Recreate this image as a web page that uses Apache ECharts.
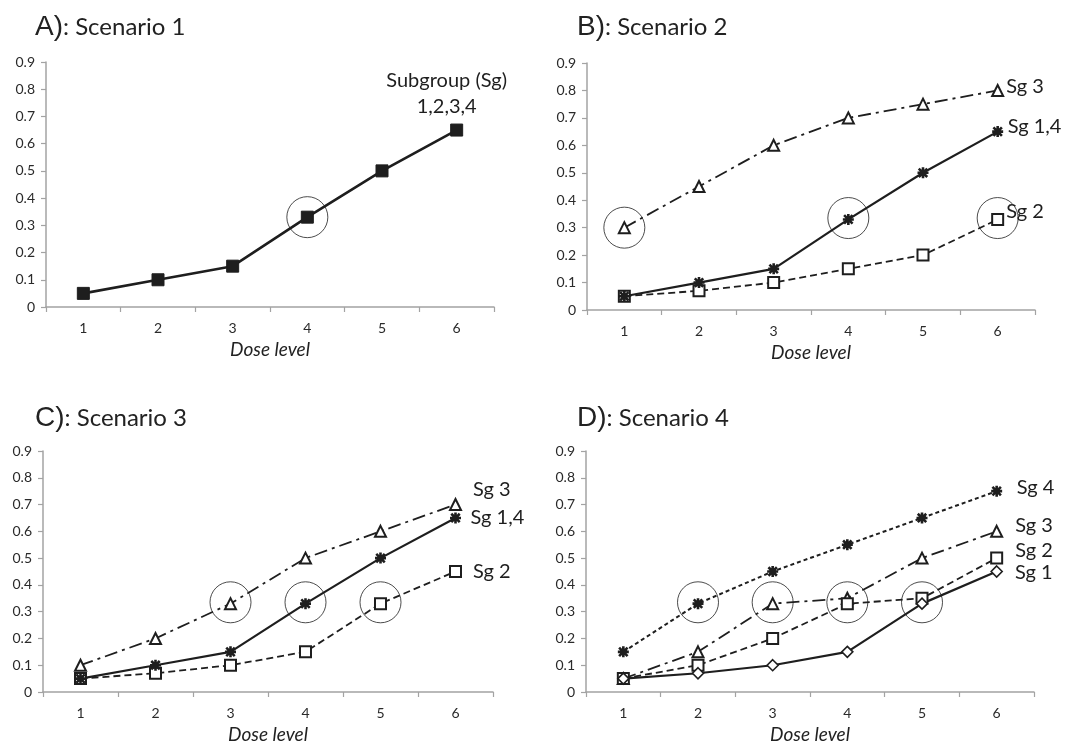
<!DOCTYPE html>
<html><head><meta charset="utf-8">
<script src="https://cdn.jsdelivr.net/npm/echarts@6/dist/echarts.min.js"></script>
<style>html,body{margin:0;padding:0;background:#fff}#c{width:1067px;height:745px}</style>
</head><body><div id="c"></div>
<script>
const doses = ['1','2','3','4','5','6'];
const yTicks = [0,0.1,0.2,0.3,0.4,0.5,0.6,0.7,0.8,0.9];
// Panel A
const aAll = [0.05,0.10,0.15,0.33,0.50,0.65];
const aCircles = [[3,0.33]];
// Panel B
const bSg14 = [0.05,0.10,0.15,0.33,0.50,0.65];
const bSg2  = [0.05,0.07,0.10,0.15,0.20,0.33];
const bSg3  = [0.30,0.45,0.60,0.70,0.75,0.80];
const bCircles = [[0,0.30],[3,0.335],[5,0.335]];
// Panel C
const cSg14 = [0.05,0.10,0.15,0.33,0.50,0.65];
const cSg2  = [0.05,0.07,0.10,0.15,0.33,0.45];
const cSg3  = [0.10,0.20,0.33,0.50,0.60,0.70];
const cCircles = [[2,0.335],[3,0.335],[4,0.335]];
// Panel D
const dSg1 = [0.05,0.07,0.10,0.15,0.33,0.45];
const dSg2 = [0.05,0.10,0.20,0.33,0.35,0.50];
const dSg3 = [0.05,0.15,0.33,0.35,0.50,0.60];
const dSg4 = [0.15,0.33,0.45,0.55,0.65,0.75];
const dCircles = [[1,0.335],[2,0.335],[3,0.335],[4,0.335]];

const FONT = 'Lato';
const INK = '#1e1e1e';
const AX = '#a3a3a3';
const STAR = 'path://M0,0L10,10M10,0L0,10M5,-1.5L5,11.5M-1.5,5L11.5,5';

const grids = [
  {left:46, top:62, width:448, height:245},
  {left:587, top:63, width:448, height:247},
  {left:43, top:451, width:450, height:245},
  {left:586, top:451, width:448, height:245}
];
const xAxes = grids.map((g,i)=>({
  gridIndex:i, type:'category', data:doses, boundaryGap:true,
  axisLine:{lineStyle:{color:AX,width:1.5}},
  axisTick:{show:true,length:5,lineStyle:{color:AX,width:1.2}},
  axisLabel:{color:'#2a2a2a',fontFamily:FONT,fontSize:14,margin:14},
  name:'Dose level', nameLocation:'middle', nameGap:33,
  nameTextStyle:{fontFamily:FONT,fontSize:19,fontStyle:'italic',color:'#222'}
}));
const yAxes = grids.map((g,i)=>({
  gridIndex:i, type:'value', min:0, max:0.9, interval:0.1,
  splitLine:{show:false},
  axisLine:{show:true,lineStyle:{color:AX,width:1.5}},
  axisTick:{show:true,length:5,lineStyle:{color:AX,width:1.2}},
  axisLabel:{color:'#2a2a2a',fontFamily:FONT,fontSize:14,margin:11,
    formatter:v=>{const t=yTicks.find(x=>Math.abs(x-v)<1e-9);return String(t);}}
}));

function withLabel(vals, label){
  return vals.map((v,i)=> i===vals.length-1 ? {value:v, label:Object.assign({show:true,color:INK,fontFamily:FONT,fontSize:20},label)} : v);
}
function lineSeries(idx, vals, opts, label){
  return Object.assign({
    type:'line', xAxisIndex:idx, yAxisIndex:idx,
    data: withLabel(vals, label||{}),
    symbolSize:10, showSymbol:true, animation:false,
    lineStyle:{color:INK,width:2},
    itemStyle:{color:'#fff',borderColor:INK,borderWidth:1.6},
    z:3
  }, opts);
}
const solid = {lineStyle:{color:INK,width:2.2,type:'solid'}};
const dashed = {lineStyle:{color:INK,width:1.8,type:[7,4]}};
const dashdot = {lineStyle:{color:INK,width:1.8,type:[13,5,3,5]}};
const shortdash = {lineStyle:{color:INK,width:2,type:[4,3]}};
const mStar = {symbol:STAR, symbolSize:11, itemStyle:{color:'none',borderColor:INK,borderWidth:2.6}};
const mSq = {symbol:'rect', symbolSize:11, itemStyle:{color:'#fff',borderColor:INK,borderWidth:2}};
const mTri = {symbol:'triangle', symbolSize:11, itemStyle:{color:'#fff',borderColor:INK,borderWidth:2}};
const mDia = {symbol:'diamond', symbolSize:11, itemStyle:{color:'#fff',borderColor:INK,borderWidth:1.6}};
const mFill = {symbol:'rect', symbolSize:12, itemStyle:{color:INK,borderColor:INK,borderWidth:1}};

function circles(idx, pts){
  return {type:'scatter', xAxisIndex:idx, yAxisIndex:idx, data:pts, symbol:'circle', symbolSize:41,
    itemStyle:{color:'rgba(0,0,0,0)',borderColor:INK,borderWidth:1}, z:2, silent:true, animation:false};
}

const R = {position:'right', distance:2};
const series = [
  // A
  Object.assign(lineSeries(0, aAll, {}, {position:'top', distance:4, align:'center', lineHeight:26, offset:[-10,0], formatter:'Subgroup (Sg)\n1,2,3,4'}), {lineStyle:{color:INK,width:2.6}}, mFill),
  circles(0, aCircles),
  // B
  Object.assign(lineSeries(1, bSg3, {}, Object.assign({formatter:'Sg 3', offset:[0,-4]},R)), dashdot, mTri),
  Object.assign(lineSeries(1, bSg2, {}, Object.assign({formatter:'Sg 2', offset:[0,-8]},R)), dashed, mSq),
  Object.assign(lineSeries(1, bSg14, {}, Object.assign({formatter:'Sg 1,4', offset:[0,-5]},R)), solid, mStar),
  circles(1, bCircles),
  // C
  Object.assign(lineSeries(2, cSg3, {}, {position:'right', distance:11, offset:[0,-15], formatter:'Sg 3'}), dashdot, mTri),
  Object.assign(lineSeries(2, cSg2, {}, {position:'right', distance:11, formatter:'Sg 2'}), dashed, mSq),
  Object.assign(lineSeries(2, cSg14, {}, {position:'right', distance:7, formatter:'Sg 1,4'}), solid, mStar),
  circles(2, cCircles),
  // D
  Object.assign(lineSeries(3, dSg4, {}, {position:'right', distance:12, offset:[0,-4], formatter:'Sg 4'}), shortdash, mStar),
  Object.assign(lineSeries(3, dSg3, {}, {position:'right', distance:12, offset:[0,-6], formatter:'Sg 3'}), dashdot, mTri),
  Object.assign(lineSeries(3, dSg2, {}, {position:'right', distance:12, offset:[0,-8], formatter:'Sg 2'}), dashed, mSq),
  Object.assign(lineSeries(3, dSg1, {}, {position:'right', distance:12, offset:[0,1], formatter:'Sg 1'}), solid, mDia),
  circles(3, dCircles)
];

function ttl(left, top, letter, txt){
  return {left, top, text:'{a|'+letter+')}{b|: '+txt+'}',
    textStyle:{fontWeight:'normal',rich:{a:{fontFamily:'Liberation Sans',fontSize:28,color:'#222',fontWeight:'normal'},b:{fontFamily:FONT,fontSize:24,color:'#222',fontWeight:'normal'}}}};
}
const option = {
  backgroundColor:'#fff',
  animation:false,
  title:[ttl(30,8,'A','Scenario 1'), ttl(572,8,'B','Scenario 2'), ttl(30,399,'C','Scenario 3'), ttl(572,399,'D','Scenario 4')],
  grid:grids, xAxis:xAxes, yAxis:yAxes, series
};
const chart = echarts.init(document.getElementById('c'), null, {renderer:'canvas'});
chart.setOption(option);
</script></body></html>
